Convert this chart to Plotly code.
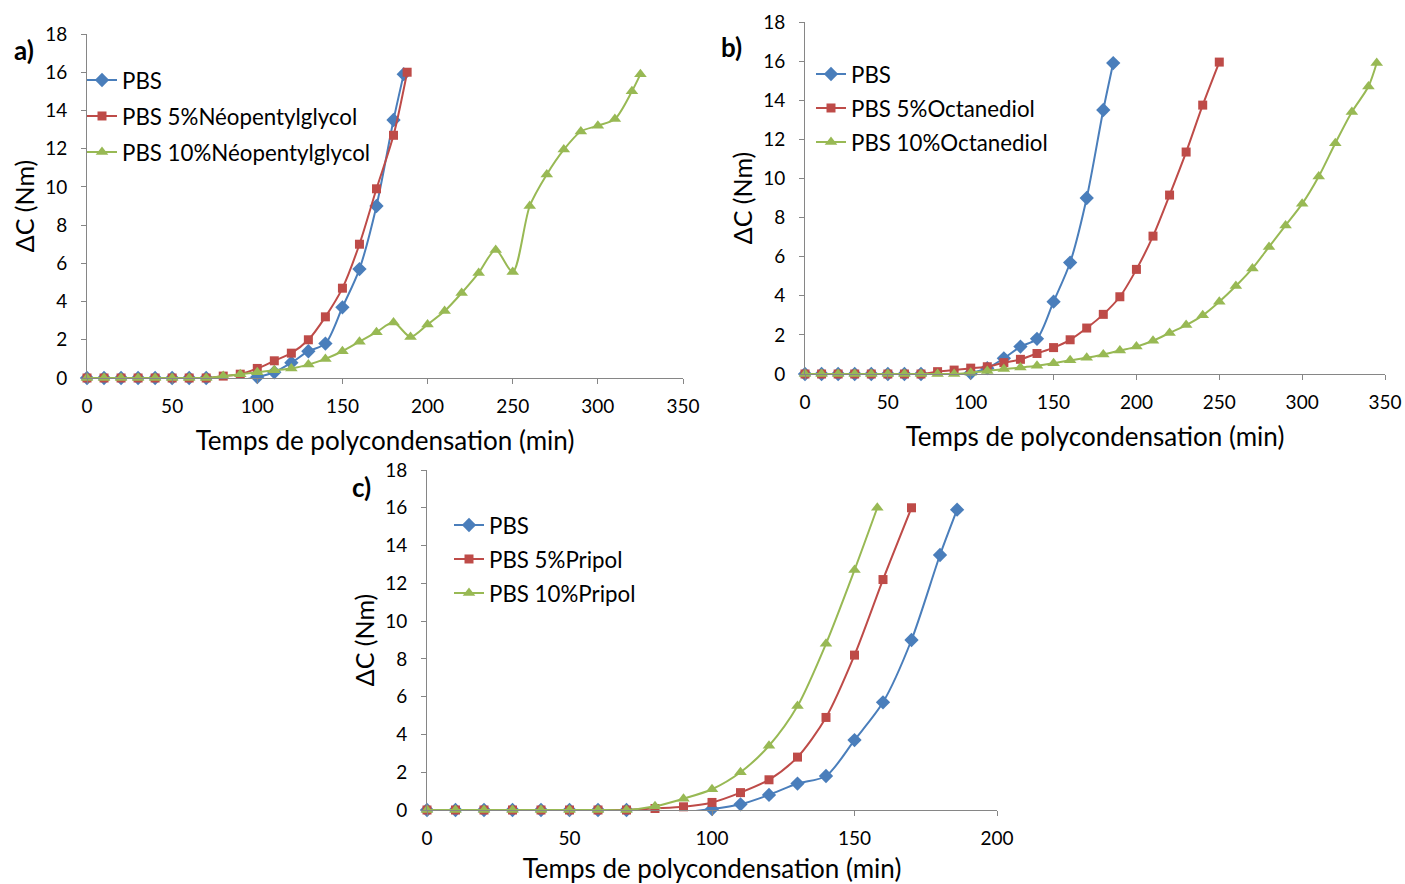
import plotly.graph_objects as go

W, H = 1405, 884

# ---------------- data ----------------
# PBS reference (shared by all panels)
pbs_x = [0, 10, 20, 30, 40, 50, 60, 70, 80, 90, 100, 110, 120, 130, 140, 150, 160, 170, 180, 186]
pbs_y = [0, 0, 0, 0, 0, 0, 0, 0, -0.05, -0.1, 0.05, 0.3, 0.8, 1.4, 1.8, 3.7, 5.7, 9.0, 13.5, 15.9]

# a) Neopentylglycol
a5_x = [0, 10, 20, 30, 40, 50, 60, 70, 80, 90, 100, 110, 120, 130, 140, 150, 160, 170, 180, 188]
a5_y = [0, 0, 0, 0, 0, 0, 0, 0, 0.1, 0.2, 0.5, 0.9, 1.3, 2.0, 3.2, 4.7, 7.0, 9.9, 12.7, 16.0]
a10_x = [0, 10, 20, 30, 40, 50, 60, 70, 80, 90, 100, 110, 120, 130, 140, 150, 160, 170, 180, 190,
         200, 210, 220, 230, 240, 250, 260, 270, 280, 290, 300, 310, 320, 325]
a10_y = [0, 0, 0, 0, 0, 0, 0, 0, 0.1, 0.2, 0.3, 0.4, 0.5, 0.7, 1.0, 1.4, 1.9, 2.4, 2.9, 2.15,
         2.8, 3.5, 4.45, 5.5, 6.7, 5.55, 9.0, 10.65, 11.95, 12.9, 13.2, 13.55, 15.0, 15.9]

# b) Octanediol
b5_x = [0, 10, 20, 30, 40, 50, 60, 70, 80, 90, 100, 110, 120, 130, 140, 150, 160, 170, 180, 190,
        200, 210, 220, 230, 240, 250]
b5_y = [0, 0, 0, 0, 0, 0, 0, 0, 0.12, 0.2, 0.3, 0.37, 0.58, 0.75, 1.05, 1.35, 1.75, 2.35, 3.05, 3.95,
        5.35, 7.05, 9.15, 11.35, 13.75, 15.95]
b10_x = [0, 10, 20, 30, 40, 50, 60, 70, 80, 90, 100, 110, 120, 130, 140, 150, 160, 170, 180, 190,
         200, 210, 220, 230, 240, 250, 260, 270, 280, 290, 300, 310, 320, 330, 340, 345]
b10_y = [0, 0, 0, 0, 0, 0, 0, 0, 0, 0, 0.07, 0.15, 0.25, 0.33, 0.42, 0.55, 0.7, 0.83, 1.0, 1.2,
         1.4, 1.7, 2.1, 2.5, 3.0, 3.7, 4.5, 5.4, 6.5, 7.6, 8.7, 10.1, 11.8, 13.4, 14.7, 15.9]

# c) Pripol
c5_x = [0, 10, 20, 30, 40, 50, 60, 70, 80, 90, 100, 110, 120, 130, 140, 150, 160, 170]
c5_y = [0, 0, 0, 0, 0, 0, 0, 0, 0.08, 0.17, 0.4, 0.92, 1.6, 2.8, 4.9, 8.2, 12.2, 16.0]
c10_x = [0, 10, 20, 30, 40, 50, 60, 70, 80, 90, 100, 110, 120, 130, 140, 150, 158]
c10_y = [0, 0, 0, 0, 0, 0, 0, 0, 0.2, 0.6, 1.1, 2.0, 3.4, 5.5, 8.8, 12.7, 16.0]

names_a = ["PBS", "PBS 5%Néopentylglycol", "PBS 10%Néopentylglycol"]
names_b = ["PBS", "PBS 5%Octanediol", "PBS 10%Octanediol"]
names_c = ["PBS", "PBS 5%Pripol", "PBS 10%Pripol"]

x_title = "Temps de polycondensation (min)"
y_title = "ΔC (Nm)"

# ---------------- style ----------------
FONT = "Lato"
BLUE, RED, GREEN = "#4A7EBB", "#BE4B48", "#98B954"
styles = [
    (BLUE, "diamond", 11),
    (RED, "square", 9),
    (GREEN, "triangle-up", 11),
]

fig = go.Figure()

panels = [
    ("", "", "legend", names_a, [(pbs_x, pbs_y), (a5_x, a5_y), (a10_x, a10_y)]),
    ("2", "2", "legend2", names_b, [(pbs_x, pbs_y), (b5_x, b5_y), (b10_x, b10_y)]),
    ("3", "3", "legend3", names_c, [(pbs_x, pbs_y), (c5_x, c5_y), (c10_x, c10_y)]),
]
for xs, ys, leg, names, series in panels:
    for i, ((x, y), name) in enumerate(zip(series, names)):
        col, sym, sz = styles[i]
        fig.add_trace(go.Scatter(
            x=x, y=y, name=name, mode="lines+markers",
            line=dict(color=col, width=2, shape="spline", smoothing=0.8),
            marker=dict(color=col, symbol=sym, size=sz),
            xaxis="x" + xs, yaxis="y" + ys, legend=leg,
            legendgroup=leg + str(i), cliponaxis=False,
        ))


def px_x(p):
    return p / W


def px_y(p):
    return 1 - p / H


AX = "#868686"
TICKFONT = dict(family=FONT, size=19, color="#000")
XTITLEFONT = dict(family=FONT, size=26, color="#000")
YTITLEFONT = dict(family=FONT, size=25, color="#000")


def xaxis(dom, rng, dt, anchor):
    return dict(domain=dom, range=rng, dtick=dt, anchor=anchor, showgrid=False, zeroline=False,
                showline=True, linecolor=AX, linewidth=1, ticks="outside", ticklen=5, tickcolor=AX,
                tickfont=TICKFONT, ticklabelstandoff=6, automargin=False,
                title=dict(text=x_title, font=XTITLEFONT, standoff=16))


def yaxis(dom, anchor):
    return dict(domain=dom, range=[0, 18], dtick=2, anchor=anchor, showgrid=False, zeroline=False,
                showline=True, linecolor=AX, linewidth=1, ticks="outside", ticklen=5, tickcolor=AX,
                tickfont=TICKFONT, ticklabelstandoff=10, automargin=False,
                title=dict(text=y_title, font=YTITLEFONT, standoff=3))


legend_common = dict(xanchor="left", yanchor="top", bgcolor="rgba(0,0,0,0)",
                     font=dict(family=FONT, size=22.3, color="#000"),
                     itemwidth=30)

fig.update_layout(
    width=W, height=H, autosize=False,
    margin=dict(l=0, r=0, t=0, b=0, autoexpand=False),
    paper_bgcolor="white", plot_bgcolor="white",
    font=dict(family=FONT),
    xaxis=xaxis([px_x(87), px_x(683)], [0, 350], 50, "y"),
    yaxis=yaxis([px_y(378), px_y(34)], "x"),
    xaxis2=xaxis([px_x(805), px_x(1385)], [0, 350], 50, "y2"),
    yaxis2=yaxis([px_y(374), px_y(22)], "x2"),
    xaxis3=xaxis([px_x(427), px_x(997)], [0, 200], 50, "y3"),
    yaxis3=yaxis([px_y(810), px_y(470)], "x3"),
    legend=dict(legend_common, x=px_x(82), y=px_y(59), tracegroupgap=4),
    legend2=dict(legend_common, x=px_x(811), y=px_y(53), tracegroupgap=2),
    legend3=dict(legend_common, x=px_x(449), y=px_y(504), tracegroupgap=2),
    showlegend=True,
    annotations=[
        dict(text="<b>a)</b>", x=px_x(24), y=px_y(50), xref="paper", yref="paper",
             xanchor="center", yanchor="middle",
             showarrow=False, font=dict(family=FONT, size=26, color="#000")),
        dict(text="<b>b)</b>", x=px_x(731), y=px_y(47), xref="paper", yref="paper",
             xanchor="center", yanchor="middle",
             showarrow=False, font=dict(family=FONT, size=26, color="#000")),
        dict(text="<b>c)</b>", x=px_x(361), y=px_y(487), xref="paper", yref="paper",
             xanchor="center", yanchor="middle",
             showarrow=False, font=dict(family=FONT, size=26, color="#000")),
    ],
)

fig.write_html("out.html")
